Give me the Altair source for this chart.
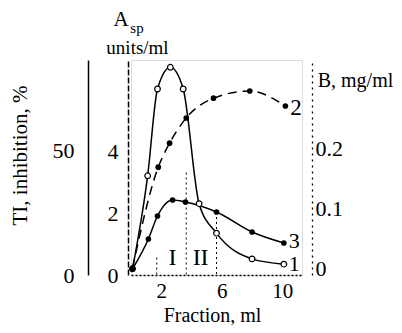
import altair as alt
import pandas as pd

# ---- data ----
# Curve 1: A_sp, units/ml (open circles, solid line)
c1_x = [0.1, 1.1, 1.75, 2.6, 3.45, 4.5, 5.65, 8.0, 10.1]
c1_y = [0.2, 3.2, 6.0, 6.7, 6.0, 2.3, 1.35, 0.52, 0.35]
# Curve 2: B, mg/ml (filled dots, dashed line)
c2_x = [0.1, 1.8, 2.55, 3.65, 5.45, 7.85, 10.2]
c2_y = [0.0, 0.168, 0.208, 0.25, 0.283, 0.295, 0.27]
# Curve 3: TI, inhibition % (filled dots, solid line)
c3_x = [0.1, 1.15, 1.75, 2.75, 3.6, 5.65, 8.0, 10.1]
c3_y = [2.4, 14.4, 23.6, 30.0, 29.2, 25.2, 17.2, 12.8]
# Fraction boundaries (dotted verticals), top in TI %
bound_x = [1.7, 3.65, 5.65]
bound_top = [7.0, 41.0, 25.2]
# Fraction labels
frac_labels = ["I", "II"]
frac_x = [2.75, 4.6]
frac_y = [6.8, 6.8]
# Curve labels
curve_labels = ["1", "2", "3"]

x_ticks = [2, 6, 10]
ti_ticks = [0, 50]
asp_ticks = [0, 2, 4]
b_ticks = [0, 0.1, 0.2]

FONT = "Liberation Serif"

df1 = pd.DataFrame({"x": c1_x, "y": c1_y})
df2 = pd.DataFrame({"x": c2_x, "y": c2_y})
df3 = pd.DataFrame({"x": c3_x, "y": c3_y})
dfb = pd.DataFrame({"x": bound_x, "y": bound_top, "y0": [0] * len(bound_x)})
dff = pd.DataFrame({"x": frac_x, "y": frac_y, "t": frac_labels})
dl1 = pd.DataFrame({"x": [c1_x[-1]], "y": [c1_y[-1]], "t": [curve_labels[0]]})
dl2 = pd.DataFrame({"x": [c2_x[-1]], "y": [c2_y[-1]], "t": [curve_labels[1]]})
dl3 = pd.DataFrame({"x": [c3_x[-1]], "y": [c3_y[-1]], "t": [curve_labels[2]]})

sx = alt.Scale(domain=[0, 11.3], nice=False, zero=False)
s_asp = alt.Scale(domain=[0, 215 / 31], nice=False, zero=False)
s_ti = alt.Scale(domain=[0, 86], nice=False, zero=False)
s_b = alt.Scale(domain=[-7 / 600, 208 / 600], nice=False, zero=False)

x_axis = alt.Axis(
    values=x_ticks, ticks=False, labelPadding=5, labelFontSize=21, labelFont=FONT,
    labelColor="black", labelFlush=False, domainColor="black", domainWidth=1.3,
    domainDash=[2, 2], grid=False, title="Fraction, ml", titleFont=FONT,
    titleFontSize=20, titleFontWeight="normal", titleColor="black",
    titleX=81, titleY=46, titleAlign="center", titleBaseline="alphabetic",
)
X = alt.X("x:Q", scale=sx, axis=x_axis)

ti_axis = alt.Axis(
    orient="left", offset=43, values=ti_ticks, ticks=False, labelPadding=14,
    labelFontSize=22, labelFont=FONT, labelColor="black", labelFlush=False,
    domainColor="black", domainWidth=1.5, grid=False,
    title="TI, inhibition, %", titleFont=FONT, titleFontSize=21,
    titleFontWeight="normal", titleColor="black", titleAngle=270,
    titleX=-68, titleY=95, titleAlign="center", titleBaseline="middle",
)
asp_axis = alt.Axis(
    orient="left", offset=3, values=asp_ticks, ticks=False, labelPadding=10,
    labelFontSize=22, labelFont=FONT, labelColor="black", labelFlush=False,
    domainColor="black", domainWidth=1.5, domainDash=[6, 2], grid=False,
    title="units/ml", titleFont=FONT, titleFontSize=19, titleFontWeight="normal",
    titleColor="black", titleAngle=0, titleX=9, titleY=-13,
    titleAlign="center", titleBaseline="middle",
)
b_axis = alt.Axis(
    orient="right", offset=10, values=b_ticks, ticks=False, labelPadding=3,
    format="~g", labelFontSize=22, labelFont=FONT, labelColor="black",
    labelFlush=False, domainColor="black", domainWidth=1.3, domainDash=[2, 4],
    grid=False, title="B, mg/ml", titleFont=FONT, titleFontSize=20,
    titleFontWeight="normal", titleColor="black", titleAngle=0, titleX=43,
    titleY=20, titleAlign="center", titleBaseline="middle",
)

# Curve 1 (A_sp)
line1 = alt.Chart(df1).mark_line(color="black", strokeWidth=1.5, interpolate="monotone").encode(
    x=X, y=alt.Y("y:Q", scale=s_asp, axis=asp_axis))
pts1 = alt.Chart(df1).mark_point(shape="circle", filled=True, fill="white", stroke="black",
                                 strokeWidth=1.2, size=32, opacity=1).encode(
    x=X, y=alt.Y("y:Q", scale=s_asp, axis=None))
lab1 = alt.Chart(dl1).mark_text(font=FONT, fontSize=22, align="left", baseline="middle", dx=5, dy=0).encode(
    x=X, y=alt.Y("y:Q", scale=s_asp, axis=None), text="t:N")

# Curve 2 (B)
line2 = alt.Chart(df2).mark_line(color="black", strokeWidth=1.5, strokeDash=[9, 6],
                                 interpolate="monotone").encode(
    x=X, y=alt.Y("y:Q", scale=s_b, axis=b_axis))
pts2 = alt.Chart(df2).mark_point(shape="circle", filled=True, color="black", size=32, opacity=1).encode(
    x=X, y=alt.Y("y:Q", scale=s_b, axis=None))
lab2 = alt.Chart(dl2).mark_text(font=FONT, fontSize=23, align="left", baseline="middle", dx=5, dy=2).encode(
    x=X, y=alt.Y("y:Q", scale=s_b, axis=None), text="t:N")

# Curve 3 (TI)
line3 = alt.Chart(df3).mark_line(color="black", strokeWidth=1.5, interpolate="monotone").encode(
    x=X, y=alt.Y("y:Q", scale=s_ti, axis=ti_axis))
pts3 = alt.Chart(df3).mark_point(shape="circle", filled=True, color="black", size=32, opacity=1).encode(
    x=X, y=alt.Y("y:Q", scale=s_ti, axis=None))
lab3 = alt.Chart(dl3).mark_text(font=FONT, fontSize=22, align="left", baseline="middle", dx=5, dy=-2).encode(
    x=X, y=alt.Y("y:Q", scale=s_ti, axis=None), text="t:N")

# Fraction boundaries and labels (TI scale)
rules = alt.Chart(dfb).mark_rule(color="black", strokeWidth=1, strokeDash=[2, 3]).encode(
    x=X, y=alt.Y("y:Q", scale=s_ti, axis=None), y2="y0:Q")
fracs = alt.Chart(dff).mark_text(font=FONT, fontSize=24, align="center", baseline="middle").encode(
    x=X, y=alt.Y("y:Q", scale=s_ti, axis=None), text="t:N")

# "A_sp" heading above the A_sp axis
head_a = alt.Chart(pd.DataFrame({"t": ["A"]})).mark_text(
    font=FONT, fontSize=21, align="center", baseline="middle").encode(
    x=alt.value(-10), y=alt.value(-40), text="t:N")
head_sp = alt.Chart(pd.DataFrame({"t": ["sp"]})).mark_text(
    font=FONT, fontSize=15, align="center", baseline="middle").encode(
    x=alt.value(6), y=alt.value(-32), text="t:N")

chart = alt.layer(
    line3, line1, line2, rules, fracs, pts1, pts2, pts3, lab1, lab2, lab3, head_a, head_sp
).resolve_scale(y="independent").properties(
    width=171, height=215,
    padding={"left": 123, "top": 52, "right": 92, "bottom": 50},
    autosize=alt.AutoSizeParams(type="none"),
).configure_view(stroke=None).configure(background="white")

chart.save("out.html", embed_options={"renderer": "svg", "actions": False})
